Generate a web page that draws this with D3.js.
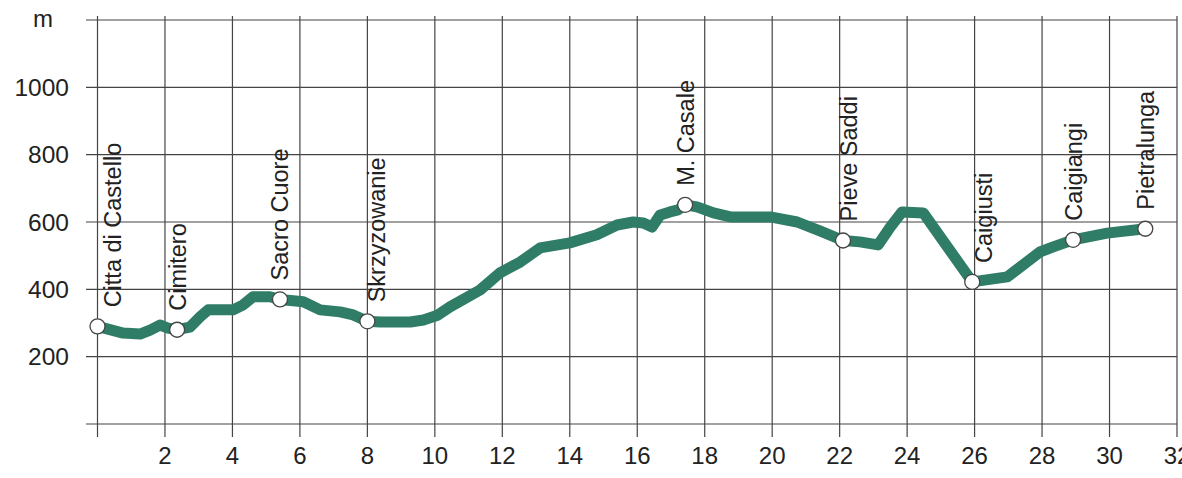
<!DOCTYPE html>
<html>
<head>
<meta charset="utf-8">
<script src="https://cdn.jsdelivr.net/npm/d3@7"></script>
<style>
  html, body { margin: 0; padding: 0; background: #fff; }
  text { font-family: "Liberation Sans", Arial, sans-serif; fill: #222; }
</style>
</head>
<body>
<div id="chart"></div>
<script>
// elevation profile, km vs metres
const profileKm = [0, 0.76, 1.26, 1.56, 1.85, 2.09, 2.36, 2.74, 3.04, 3.28, 4.02, 4.32, 4.61, 5.11, 5.41,
  6.1, 6.6, 7.19, 7.58, 8.0, 8.38, 9.27, 9.66, 10.06, 10.45, 11.34, 11.93, 12.53, 13.12, 14.0, 14.8,
  15.4, 15.88, 16.18, 16.44, 16.68, 16.97, 17.21, 17.42, 17.77, 18.26, 18.76, 19.94, 20.74, 21.45,
  22.1, 22.6, 23.14, 23.5, 23.85, 24.48, 25.93, 26.97, 27.94, 28.33, 28.92, 29.93, 31.06]
const profileElev = [290, 270, 267, 279, 294, 285, 280, 288, 318, 339, 339, 354, 378, 378, 370,
  363, 339, 333, 324, 305, 303, 303, 309, 322, 348, 398, 449, 481, 523, 538, 562,
  591, 600, 597, 585, 621, 630, 636, 651, 645, 627, 615, 615, 600, 572,
  545, 541, 532, 585, 630, 627, 422, 437, 511, 526, 547, 567, 580]

const stationNames = ["Citta di Castello", "Cimitero", "Sacro Cuore", "Skrzyzowanie", "M. Casale",
  "Pieve Saddi", "Caigiusti", "Caigiangi", "Pietralunga"]
const stationKm = [0, 2.36, 5.41, 8.0, 17.42, 22.1, 25.93, 28.92, 31.06]
const stationElev = [290, 280, 370, 305, 651, 545, 422, 547, 580]

const xTicks = [0, 2, 4, 6, 8, 10, 12, 14, 16, 18, 20, 22, 24, 26, 28, 30, 32]
const yTicks = [0, 200, 400, 600, 800, 1000, 1200]
const yLabels = [200, 400, 600, 800, 1000]

const width = 1182
const height = 478

const svg = d3.select('#chart').append('svg')
    .attr('width', width)
    .attr('height', height)

const x = d3.scaleLinear().domain([0, 32]).range([97.5, 1177])
const y = d3.scaleLinear().domain([0, 1200]).range([424, 20])

// grid
const grid = svg.append('g').attr('stroke', '#444').attr('stroke-width', 1.2)
grid.selectAll('line.h')
    .data(yTicks)
    .join('line')
    .attr('class', 'h')
    .attr('x1', 86).attr('x2', x(32))
    .attr('y1', d => y(d)).attr('y2', d => y(d))
grid.selectAll('line.v')
    .data(xTicks)
    .join('line')
    .attr('class', 'v')
    .attr('x1', d => x(d)).attr('x2', d => x(d))
    .attr('y1', y(1200) - 4).attr('y2', y(0) + 13)

// axis labels
svg.append('g')
    .selectAll('text')
    .data(yLabels)
    .join('text')
    .attr('x', 69)
    .attr('y', d => y(d))
    .attr('dy', '0.36em')
    .attr('text-anchor', 'end')
    .attr('font-size', 24.5)
    .text(d => d)

svg.append('text')
    .attr('x', 43).attr('y', 27)
    .attr('text-anchor', 'middle')
    .attr('font-size', 24)
    .text('m')

svg.append('g')
    .selectAll('text')
    .data(xTicks.filter(d => d > 0))
    .join('text')
    .attr('x', d => x(d))
    .attr('y', 464)
    .attr('text-anchor', 'middle')
    .attr('font-size', 24)
    .text(d => d)

// profile
const line = d3.line()
    .x((d, i) => x(profileKm[i]))
    .y(d => y(d))

svg.append('path')
    .datum(profileElev)
    .attr('d', line)
    .attr('fill', 'none')
    .attr('stroke', '#2f7d66')
    .attr('stroke-width', 11)
    .attr('stroke-linejoin', 'round')
    .attr('stroke-linecap', 'round')

// station markers
svg.append('g')
    .selectAll('circle')
    .data(stationKm)
    .join('circle')
    .attr('cx', d => x(d))
    .attr('cy', (d, i) => y(stationElev[i]))
    .attr('r', 7.5)
    .attr('fill', '#fff')
    .attr('stroke', '#444')
    .attr('stroke-width', 1.3)

// labels sit beside a gridline when the marker is right on it
function labelX(km){
    const px = x(km)
    const gx = x(Math.round(km / 2) * 2)
    if (km === 0) return gx + 15
    return Math.abs(px - gx) < 6 ? gx + 9 : px
}

svg.append('g')
    .selectAll('text')
    .data(stationNames)
    .join('text')
    .attr('transform', (d, i) => `translate(${labelX(stationKm[i])},${y(stationElev[i]) - 19}) rotate(-90)`)
    .attr('dy', '0.36em')
    .attr('font-size', 23.5)
    .text(d => d)
</script>
</body>
</html>
